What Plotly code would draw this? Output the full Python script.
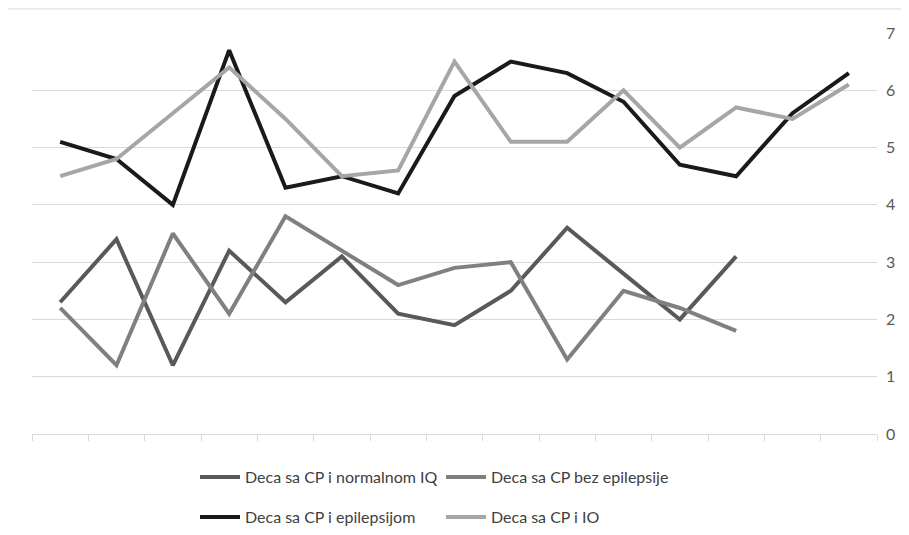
import plotly.graph_objects as go

categories = [str(i) for i in range(1, 16)]

normal_iq = [2.3, 3.4, 1.2, 3.2, 2.3, 3.1, 2.1, 1.9, 2.5, 3.6, 2.8, 2.0, 3.1]
bez_epilepsije = [2.2, 1.2, 3.5, 2.1, 3.8, 3.2, 2.6, 2.9, 3.0, 1.3, 2.5, 2.2, 1.8]
epilepsijom = [5.1, 4.8, 4.0, 6.7, 4.3, 4.5, 4.2, 5.9, 6.5, 6.3, 5.8, 4.7, 4.5, 5.6, 6.3]
io = [4.5, 4.8, 5.6, 6.4, 5.5, 4.5, 4.6, 6.5, 5.1, 5.1, 6.0, 5.0, 5.7, 5.5, 6.1]

names = ["Deca sa CP i normalnom IQ", "Deca sa CP bez epilepsije",
         "Deca sa CP i epilepsijom", "Deca sa CP i IO"]
y_ticks = [0, 1, 2, 3, 4, 5, 6, 7]

series = [normal_iq, bez_epilepsije, epilepsijom, io]
colors = ["#595959", "#808080", "#1a1a1a", "#a6a6a6"]
legends = ["legend", "legend", "legend2", "legend2"]

W, H = 901, 527

fig = go.Figure()
for vals, name, col, lg in zip(series, names, colors, legends):
    fig.add_trace(go.Scatter(
        x=categories[:len(vals)], y=vals, name=name, mode="lines",
        line=dict(color=col, width=4), legend=lg,
    ))

leg_common = dict(
    orientation="h", xanchor="left", yanchor="middle",
    xref="container", yref="container",
    font=dict(family="Lato", size=16, color="#404040"),
    entrywidth=191, entrywidthmode="pixels", itemwidth=40,
    bgcolor="rgba(0,0,0,0)", traceorder="normal",
)

fig.update_layout(
    width=W, height=H,
    margin=dict(l=24, r=32, t=25, b=101, autoexpand=False),
    paper_bgcolor="white", plot_bgcolor="white",
    showlegend=True,
    legend=dict(x=187 / W, y=1 - 469 / H, **leg_common),
    legend2=dict(x=187 / W, y=1 - 509 / H, **leg_common),
    xaxis=dict(
        type="category", categoryorder="array", categoryarray=categories,
        range=[-0.5, 14.5], tickson="boundaries", ticks="outside",
        ticklen=6, tickcolor="#d9d9d9", showticklabels=False,
        showgrid=False, showline=True, linecolor="#d9d9d9", linewidth=1,
        zeroline=False, fixedrange=True, automargin=False,
    ),
    yaxis=dict(
        side="right", range=[0, 7], tickvals=y_ticks,
        showgrid=True, gridcolor="#d9d9d9", gridwidth=1,
        zeroline=False, showline=False, ticks="",
        tickfont=dict(family="Lato", size=16, color="#595959"),
        ticklabelstandoff=8, fixedrange=True, automargin=False,
    ),
    shapes=[dict(type="rect", xref="paper", yref="paper",
                 x0=-0.0308, x1=1.05, y0=-0.3, y1=1.06,
                 line=dict(color="#d9d9d9", width=1), fillcolor="rgba(0,0,0,0)",
                 layer="below")],
)

fig.write_html("out.html")
